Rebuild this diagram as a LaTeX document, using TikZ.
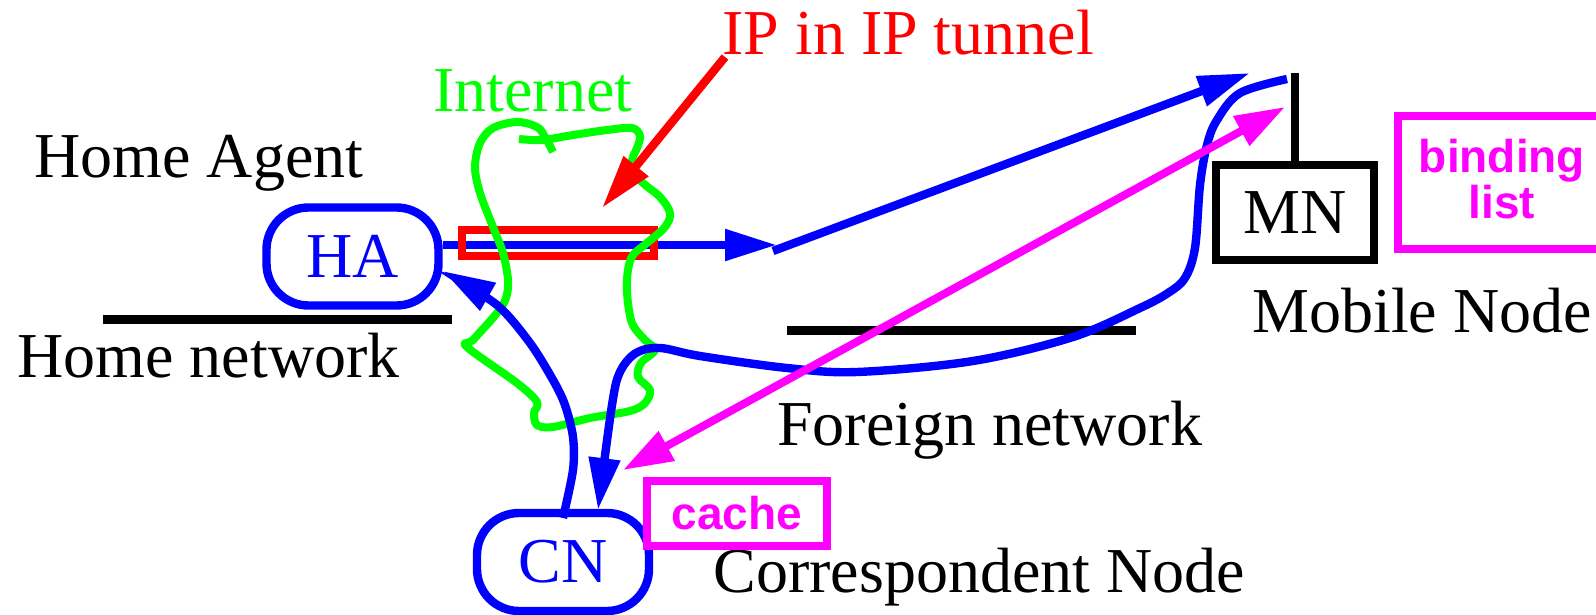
\documentclass[tikz,border=0pt]{standalone}
\usepackage{fontspec}
\setmainfont{Liberation Serif}
\setsansfont{Liberation Sans}
\usetikzlibrary{arrows.meta}
\definecolor{pblue}{RGB}{0,0,255}
\definecolor{pred}{RGB}{255,0,0}
\definecolor{pgreen}{RGB}{0,255,0}
\definecolor{pmag}{RGB}{255,0,255}
\begin{document}
\begin{tikzpicture}[x=0.5pt,y=-0.5pt,
  lbl/.style={font=\fontsize{32}{38}\selectfont, inner sep=0pt, anchor=base west},
  sanslbl/.style={font=\sffamily\bfseries\fontsize{23}{23}\selectfont, text=pmag, inner sep=0pt, anchor=base},
  agent/.style={draw=pblue, line width=4.2pt, rounded corners=21pt, minimum width=86pt,
    minimum height=49pt, text=pblue, inner sep=0pt, font=\fontsize{32}{38}\selectfont},
  mnbox/.style={draw=black, line width=4.3pt, minimum width=79pt, minimum height=47.5pt,
    inner sep=0pt, font=\fontsize{32}{38}\selectfont},
  cachebox/.style={draw=pmag, line width=4.2pt, minimum width=90pt, minimum height=32.5pt,
    inner sep=0pt, text=pmag, font=\sffamily\bfseries\fontsize{23}{23}\selectfont},
  tunnelbox/.style={draw=pred, line width=4.2pt, minimum width=96pt, minimum height=13pt, inner sep=0pt},
  netline/.style={line width=4.5pt, black},
  bluearrow/.style={draw=pblue, line width=4.2pt, -{Triangle[length=26pt,width=15pt]}},
  magarrow/.style={draw=pmag, line width=4pt, {Triangle[length=25pt,width=16pt]}-{Triangle[length=25pt,width=16pt]}},
  redarrow/.style={draw=pred, line width=4.2pt, -{Triangle[length=27pt,width=15pt]}},
  greenline/.style={draw=pgreen, line width=4pt, line join=round}
]
\useasboundingbox (0,0) rectangle (1596,615);

% labels
\node[lbl] (lHA) at (34,177) {Home Agent};
\node[lbl] (lHN) at (17,377) {Home network};
\node[lbl, text=pgreen] (lInt) at (433,112) {Internet};
\node[lbl, text=pred] (lIP) at (722,55) {IP in IP tunnel};
\node[lbl] (lFN) at (777,445) {Foreign network};
\node[lbl] (lCN) at (713,592) {Correspondent Node};
\node[lbl] (lMN) at (1252,332) {Mobile Node};

% network lines
\coordinate (hn1) at (103,319); \coordinate (hn2) at (452,319);
\draw[netline] (hn1) -- (hn2);
\coordinate (fn1) at (787,330); \coordinate (fn2) at (1136,330);
\draw[netline] (fn1) -- (fn2);

% nodes
\node[agent] (HA) at (352.5,256.5) {HA};
\node[agent] (CN) at (563,562) {CN};
\node[mnbox] (MN) at (1295,212.5) {MN};
\node[cachebox] (cache) at (737,513.5) {cache};

% antenna
\coordinate (ant) at (1295,73);
\draw[line width=3.8pt] (ant) -- (MN.north);

% binding list box (open at the right edge)
\draw[draw=pmag, line width=4.2pt] (1640,116) -- (1398,116) -- (1398,249) -- (1640,249);
\node[sanslbl] (bind1) at (1502,172) {binding};
\node[sanslbl] (bind2) at (1502,218) {list};

% tunnel
\coordinate (t1) at (777,245);
\draw[bluearrow] (HA.east |- t1) -- (t1);
\node[tunnelbox] (tun) at (558,243) {};

% Internet cloud (green)
\draw[greenline] plot[smooth, tension=0.55] coordinates {
 (519,139) (542,140) (573,135) (607,130) (632,128) (640,136) (637,148) (632,162)
 (640,180) (660,197) (670,213) (665,227) (647,243) (633,255) (628,270) (627,293)
 (632,323) (645,340) (655,350) (641,363) (638,377) (650,390) (645,403) (630,411)
 (590,418) (553,427) (537,425) (534,413) (537,402) (517,383) (467,347) (473,340)
 (497,313) (506,298) (508,280) (503,253) (493,227) (480,193) (475,167) (480,143)
 (493,128) (517,122) (537,127) (545,137) (553,152)};

% red pointer
\coordinate (r1) at (725,57); \coordinate (r2) at (602,208);
\draw[redarrow] (r1) -- (r2);

% blue diagonal towards MN
\coordinate (d1) at (773,251); \coordinate (d2) at (1250,73);
\draw[bluearrow] (d1) -- (d2);

% blue curve MN -> CN
\coordinate (m0) at (1287,79);
\coordinate (c0) at (598,510);
\draw[bluearrow] plot[smooth, tension=0.55] coordinates {
 (m0) (1240,93) (1217,120) (1207,145) (1200,185) (1195,248) (1185,278) (1168,293)
 (1140,308) (1073,337) (973,361) (857,372) (787,368) (700,356) (660,348)
 (636,353) (620,372) (612,405) (c0)};

% blue curve CN -> HA
\coordinate (h0) at (563,518);
\coordinate (h9) at (443,271);
\draw[bluearrow] plot[smooth, tension=0.5] coordinates {
 (h0) (573,470) (573,437) (565,405) (553,380) (530,343) (497,305) (h9)};

% magenta binding update arrow
\coordinate (g1) at (623,470); \coordinate (g2) at (1285,107);
\draw[magarrow] (g1) -- (g2);
\end{tikzpicture}
\end{document}
